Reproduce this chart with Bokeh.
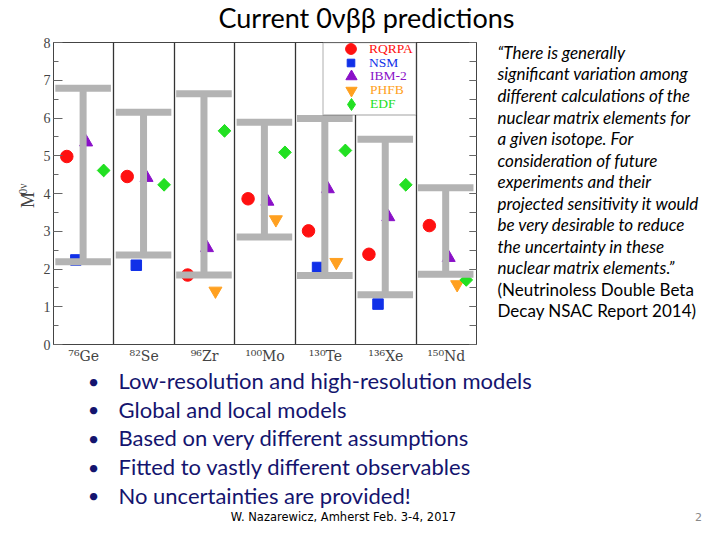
import math
from bokeh.plotting import figure
from bokeh.layouts import column, row
from bokeh.models import (FixedTicker, SingleIntervalTicker, LinearAxis, Label,
                          BoxAnnotation, Legend, LegendItem, Range1d, CustomLabelingPolicy)
from bokeh.embed import file_html
from bokeh.resources import INLINE

# ---------------- data ----------------
isotopes = ["⁷⁶Ge", "⁸²Se", "⁹⁶Zr", "¹⁰⁰Mo", "¹³⁰Te", "¹³⁶Xe", "¹⁵⁰Nd"]
nan = float("nan")
rqrpa = [4.98, 4.45, 1.84, 3.86, 3.01, 2.39, 3.15]
nsm = [2.24, 2.10, nan, nan, 2.04, 1.07, nan]
ibm2 = [5.36, 4.42, 2.56, 3.79, 4.12, 3.38, 2.30]
phfb = [nan, nan, 1.42, 3.31, 2.18, nan, 1.59]
edf = [4.61, 4.23, 5.66, 5.09, 5.14, 4.23, 1.71]
range_top = [6.79, 6.15, 6.64, 5.89, 5.99, 5.44, 4.15]
range_bottom = [2.19, 2.37, 1.84, 2.85, 1.83, 1.32, 1.86]

model_names = ["RQRPA", "NSM", "IBM-2", "PHFB", "EDF"]
model_values = [rqrpa, nsm, ibm2, phfb, edf]

title_text = "Current 0νββ predictions"
ylabel_main = "M"
ylabel_sup = "0ν"
quote_lines = ["“There is generally", "significant variation among",
               "different calculations of the", "nuclear matrix elements for",
               "a given isotope. For", "consideration of future",
               "experiments and their", "projected sensitivity it would",
               "be very desirable to reduce", "the uncertainty in these",
               "nuclear matrix elements.”"]
source_lines = ["(Neutrinoless Double Beta", "Decay NSAC Report 2014)"]
bullets = ["Low-resolution and high-resolution models", "Global and local models",
           "Based on very different assumptions", "Fitted to vastly different observables",
           "No uncertainties are provided!"]
footer = "W. Nazarewicz, Amherst Feb. 3-4, 2017"
page_no = "2"

# ---------------- styles / layout ----------------
W = 704
TITLE_H, MID_H = 34, 332
BOT_H = 524 - TITLE_H - MID_H
YL_W, CH_W = 40, 450
Q_W = W - YL_W - CH_W
B_TOP, B_BOT = 8, 21  # chart borders (shared by row neighbours)

model_markers = ["circle", "square", "triangle", "inverted_triangle", "square"]
legend_markers = ["circle", "square", "triangle", "inverted_triangle", "diamond"]
model_angles = [0, 0, 0, 0, math.pi / 4]
model_colors = ["#ff1010", "#1030e8", "#8a10c8", "#ffa020", "#22e022"]
model_sizes = [12.5, 10.5, 13, 13, 9]
legend_sizes = [0, 0, 0, 0, 12]
legend_boxes = [27, 19, 28, 28, 30]
model_offsets = [0.22, 0.37, 0.54, 0.68, 0.83]
SERIF = "Liberation Serif"
SANS = "Lato"
NAVY = "#14146e"


def text_fig(w, h, top=0, bottom=0):
    f = figure(width=w, height=h, output_backend="svg", toolbar_location=None,
               x_range=Range1d(0, w), y_range=Range1d(h - bottom, top),
               min_border_left=0, min_border_right=0,
               min_border_top=top, min_border_bottom=bottom,
               x_axis_location=None, y_axis_location=None)
    f.grid.visible = False
    f.outline_line_color = None
    f.border_fill_color = "white"
    return f


def lab(f, ox, oy, text, px, py, **kw):
    # px, py: position on the slide (pixels from top-left); ox, oy: figure origin
    f.add_layout(Label(x=px - ox, y=py - oy, text=text, **kw))


# ---------------- title ----------------
tf = text_fig(W, TITLE_H)
lab(tf, 0, 0, title_text, 366, 17, text_align="center", text_baseline="middle",
    text_font=SANS, text_font_size="27px", text_color="black")

# ---------------- y label ----------------
yf = text_fig(YL_W, MID_H, B_TOP, B_BOT)
lab(yf, 0, TITLE_H, ylabel_main, 37, 200, angle=math.pi / 2, text_align="center",
    text_baseline="bottom", text_font=SERIF, text_font_size="18px")
lab(yf, 0, TITLE_H, ylabel_sup, 22, 189, angle=math.pi / 2, text_align="center",
    text_baseline="alphabetic", text_font=SERIF, text_font_size="11.5px")

# ---------------- chart ----------------
p = figure(width=CH_W, height=MID_H, output_backend="svg", toolbar_location=None,
           x_range=Range1d(0, 7), y_range=Range1d(0, 8),
           min_border_left=10, min_border_right=9, min_border_top=B_TOP,
           min_border_bottom=B_BOT)
p.outline_line_color = "#444444"
p.border_fill_color = "white"

p.ygrid.visible = False
p.xgrid.ticker = FixedTicker(ticks=list(range(1, len(isotopes))))
p.xgrid.grid_line_color = "#333333"
p.xgrid.grid_line_width = 1.3

xa = p.xaxis[0]
xa.ticker = FixedTicker(ticks=[i + 0.5 for i in range(len(isotopes))])
xa.major_label_overrides = {i + 0.5: s for i, s in enumerate(isotopes)}
xa.major_tick_in = 0
xa.major_tick_out = 0
xa.minor_tick_line_color = None
xa.axis_line_color = "#444444"
xa.major_label_text_font = "DejaVu Serif"
xa.major_label_text_font_size = "14px"
xa.major_label_standoff = 3

ya = p.yaxis[0]
ya.ticker = SingleIntervalTicker(interval=1, num_minor_ticks=2)
ya.major_tick_in = 9
ya.major_tick_out = 0
ya.minor_tick_in = 5
ya.minor_tick_out = 0
ya.axis_line_color = "#444444"
ya.major_tick_line_color = "#666666"
ya.minor_tick_line_color = "#666666"
ya.major_label_text_font = SERIF
ya.major_label_text_font_size = "14px"
ya.major_label_standoff = 3

ra = LinearAxis(ticker=SingleIntervalTicker(interval=1, num_minor_ticks=2))
ra.major_tick_in = 7
ra.major_tick_out = 0
ra.minor_tick_in = 7
ra.minor_tick_out = 0
ra.major_label_policy = CustomLabelingPolicy(
    code="for (const i of Array.from(indices)) { indices.unset(i) }\nreturn indices")
ra.axis_line_color = "#444444"
ra.major_tick_line_color = "#666666"
ra.minor_tick_line_color = "#666666"
p.add_layout(ra, "right")

legend_keys = []
for vals, mk, lmk, lsz, ang, col, sz, off in zip(model_values, model_markers, legend_markers,
                                                 legend_sizes, model_angles, model_colors,
                                                 model_sizes, model_offsets):
    xs = [i + off for i in range(len(vals))]
    key = None
    if lmk != mk:
        # legend key glyph, fully hidden below the rotated square markers
        key = p.scatter(xs, vals, marker=lmk, size=lsz, fill_color=col, line_color=col)
    r = p.scatter(xs, vals, marker=mk, angle=ang, size=sz, fill_color=col, line_color=col)
    legend_keys.append(key if key is not None else r)

bar_col = "#b3b3b3"
xc = [i + 0.49 for i in range(len(isotopes))]
p.segment(x0=xc, x1=xc, y0=range_bottom, y1=range_top, line_color=bar_col, line_width=7)
cl = [i + 0.03 for i in range(len(isotopes))]
cr = [i + 0.95 for i in range(len(isotopes))]
p.segment(x0=cl, x1=cr, y0=range_top, y1=range_top, line_color=bar_col, line_width=7)
p.segment(x0=cl, x1=cr, y0=range_bottom, y1=range_bottom, line_color=bar_col, line_width=7)

p.add_layout(BoxAnnotation(left=4.46, right=6.0, bottom=6.08, top=8, fill_color="white",
                           fill_alpha=1, line_color="#333333", line_width=1.3))

# legend: one per model so that each label gets its model's colour
frame_left, frame_bottom = 50, 345  # slide px
for k, (name, key, col, bx) in enumerate(zip(model_names, legend_keys, model_colors,
                                             legend_boxes)):
    yc = 50 + k * 13.7
    lg = Legend(items=[LegendItem(label=name, renderers=[key])],
                location=(round(348 - bx / 2 - frame_left), round(frame_bottom - (yc + bx / 2))),
                padding=0, margin=0, spacing=0, glyph_width=bx, glyph_height=bx,
                label_height=bx, label_standoff=round(18.7 - bx / 2), border_line_color=None,
                background_fill_alpha=0, label_text_color=col,
                label_text_font=SERIF, label_text_font_size="13.5px")
    p.add_layout(lg)

# ---------------- quote ----------------
qf = text_fig(Q_W, MID_H, B_TOP, B_BOT)
QX = YL_W + CH_W
for i, s in enumerate(quote_lines + source_lines):
    lab(qf, QX, TITLE_H, s, 497, 52 + i * 21.6, text_align="left", text_baseline="middle",
        text_font=SANS, text_font_size="17px",
        text_font_style="italic" if i < len(quote_lines) else "normal", text_color="black")

# ---------------- bullets ----------------
bf = text_fig(W, BOT_H)
BY = TITLE_H + MID_H
for i, s in enumerate(bullets):
    yb = 380 + i * 28.7
    lab(bf, 0, BY, "•", 93, yb, text_align="center", text_baseline="middle", text_font=SANS,
        text_font_size="20px", text_color=NAVY)
    lab(bf, 0, BY, s, 118, yb, text_align="left", text_baseline="middle", text_font=SANS,
        text_font_size="22px", text_color=NAVY)
lab(bf, 0, BY, footer, 343, 516, text_align="center", text_baseline="middle",
    text_font="DejaVu Sans", text_font_size="11.5px", text_color="black")
lab(bf, 0, BY, page_no, 698, 516, text_align="center", text_baseline="middle",
    text_font="DejaVu Sans", text_font_size="11px", text_color="#888888")

layout = column(tf, row(yf, p, qf), bf)
open("out.html", "w").write(file_html(layout, INLINE))
